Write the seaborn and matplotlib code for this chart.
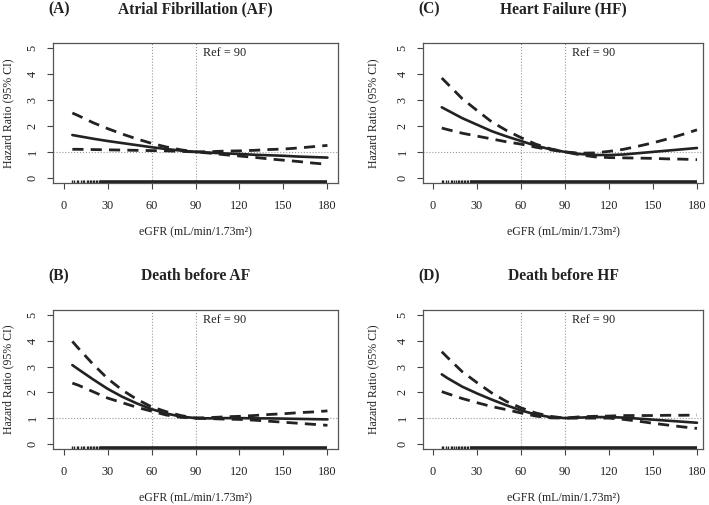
import matplotlib
matplotlib.use("Agg")
import matplotlib.pyplot as plt
import pandas as pd
import seaborn as sns

egfr = [6, 10, 20, 30, 40, 50, 60, 70, 80, 90, 100, 110, 120, 130, 140, 150, 160, 170, 180]

# (A) Atrial fibrillation
af_hr = [1.65, 1.61, 1.51, 1.42, 1.34, 1.26, 1.18, 1.11, 1.05, 1.00,
         0.97, 0.94, 0.92, 0.89, 0.87, 0.85, 0.82, 0.80, 0.78]
af_hi = [2.50, 2.40, 2.13, 1.90, 1.69, 1.50, 1.33, 1.19, 1.08, 1.00,
         1.01, 1.03, 1.04, 1.06, 1.09, 1.11, 1.15, 1.20, 1.25]
af_lo = [1.10, 1.10, 1.09, 1.08, 1.07, 1.06, 1.05, 1.04, 1.02, 1.00,
         0.95, 0.89, 0.84, 0.79, 0.73, 0.68, 0.63, 0.57, 0.52]

# (B) Death before AF
dAF_hr = [3.06, 2.90, 2.51, 2.14, 1.83, 1.57, 1.35, 1.18, 1.06, 1.00,
          0.99, 1.00, 1.00, 0.99, 0.99, 0.98, 0.97, 0.96, 0.95]
dAF_hi = [3.98, 3.72, 3.10, 2.54, 2.09, 1.73, 1.44, 1.25, 1.10, 1.00,
          1.02, 1.05, 1.07, 1.10, 1.14, 1.17, 1.21, 1.24, 1.28]
dAF_lo = [2.36, 2.28, 2.03, 1.78, 1.60, 1.42, 1.27, 1.12, 1.03, 1.00,
          0.98, 0.96, 0.95, 0.92, 0.88, 0.84, 0.80, 0.76, 0.72]

# (C) Heart failure
hf_hr = [2.72, 2.60, 2.30, 2.05, 1.80, 1.60, 1.42, 1.24, 1.10, 1.00,
         0.92, 0.88, 0.88, 0.90, 0.95, 1.00, 1.05, 1.10, 1.15]
hf_hi = [3.85, 3.62, 3.05, 2.60, 2.16, 1.83, 1.55, 1.30, 1.12, 1.00,
         0.95, 0.96, 1.02, 1.10, 1.22, 1.35, 1.50, 1.67, 1.85]
hf_lo = [1.92, 1.86, 1.72, 1.61, 1.50, 1.39, 1.30, 1.18, 1.08, 1.00,
         0.89, 0.81, 0.78, 0.77, 0.76, 0.75, 0.73, 0.72, 0.70]

# (D) Death before HF
dHF_hr = [2.70, 2.55, 2.22, 1.96, 1.72, 1.50, 1.30, 1.14, 1.04, 1.00,
          1.02, 1.04, 1.04, 1.02, 0.98, 0.94, 0.90, 0.86, 0.82]
dHF_hi = [3.58, 3.35, 2.80, 2.38, 1.98, 1.65, 1.40, 1.20, 1.07, 1.00,
          1.05, 1.07, 1.08, 1.10, 1.10, 1.10, 1.11, 1.11, 1.12]
dHF_lo = [2.03, 1.95, 1.76, 1.60, 1.45, 1.33, 1.20, 1.08, 1.01, 1.00,
          1.00, 1.00, 1.00, 0.95, 0.88, 0.80, 0.73, 0.66, 0.60]

# observed eGFR values (rug): sparse at low eGFR, dense above ~25
rug_sparse = [6, 7, 9, 10, 12, 13, 14, 16, 17, 18, 19, 20, 21, 22, 23, 24]
rug_dense = (25, 180)

ref = 90
cutoff = 60

panels = [
    ("(A)", "Atrial Fibrillation (AF)", af_hr, af_lo, af_hi),
    ("(B)", "Death before AF", dAF_hr, dAF_lo, dAF_hi),
    ("(C)", "Heart Failure (HF)", hf_hr, hf_lo, hf_hi),
    ("(D)", "Death before HF", dHF_hr, dHF_lo, dHF_hi),
]

sns.set_theme(style="white")
plt.rcParams["font.family"] = ["Liberation Serif", "DejaVu Serif"]

W, H = 709, 505
fig = plt.figure(figsize=(W / 100, H / 100), dpi=100)

# box positions in pixels: left, right, top, bottom
boxes = {
    "(A)": (53, 338, 43, 183),
    "(C)": (423, 703, 43, 183),
    "(B)": (53, 338, 310, 449),
    "(D)": (423, 703, 310, 449),
}
xlims = {"(A)": (-7.2, 187.2), "(B)": (-7.2, 187.2), "(C)": (-6.8, 184.1), "(D)": (-6.8, 184.1)}
ylab_x = {"(A)": 8, "(B)": 8, "(C)": 373, "(D)": 373}

dash = (4, 2.6)
ink = "#222222"
fs = 8.8

for tag, title, hr, lo, hi in panels:
    l, r, t, b = boxes[tag]
    ax = fig.add_axes([l / W, (H - b) / H, (r - l) / W, (b - t) / H])
    df = pd.DataFrame({"egfr": egfr, "hr": hr, "lo": lo, "hi": hi})

    ax.axvline(cutoff, color="#999999", lw=0.8, ls=":", zorder=1)
    ax.axvline(ref, color="#999999", lw=0.8, ls=":", zorder=1)
    ax.axhline(1, color="#999999", lw=0.8, ls=":", zorder=1)

    sns.lineplot(data=df, x="egfr", y="hi", color=ink, lw=2.0, ax=ax, legend=False)
    sns.lineplot(data=df, x="egfr", y="lo", color=ink, lw=2.0, ax=ax, legend=False)
    sns.lineplot(data=df, x="egfr", y="hr", color=ink, lw=1.9, ax=ax, legend=False)
    for line in ax.lines[-3:-1]:
        line.set_dashes(dash)

    # rug of observed eGFR
    sns.rugplot(x=rug_sparse, height=0.022, color=ink, lw=0.9, ax=ax)
    ax.hlines(-0.145, rug_dense[0], rug_dense[1], color=ink, lw=2.6)

    ax.text(ref + 5, 4.82, "Ref = 90", fontsize=fs, ha="left", va="center",
            color=ink)

    ax.set_xlim(*xlims[tag])
    ax.set_ylim(-0.2, 5.2)
    ax.set_xticks([0, 30, 60, 90, 120, 150, 180])
    ax.set_yticks([0, 1, 2, 3, 4, 5])
    ax.set_xlabel("")
    ax.set_ylabel("")
    for lab in ax.get_yticklabels():
        lab.set_rotation(90)
        lab.set_va("center")
    ax.tick_params(axis="both", direction="out", length=4.5, width=0.8,
                   color="#444444", labelsize=fs, labelcolor=ink, pad=6,
                   bottom=True, left=True)
    ax.tick_params(axis="x", pad=8)
    for sp in ax.spines.values():
        sp.set_color("#555555")
        sp.set_linewidth(0.9)

    cx = (l + r) / 2
    fig.text(cx / W, 1 - (t - 34) / H, title, fontsize=11.2, fontweight="bold",
             ha="center", va="center", color=ink)
    fig.text((l - 5) / W, 1 - (t - 34) / H, tag, fontsize=11.2, fontweight="bold",
             ha="left", va="center", color=ink)
    fig.text(cx / W, 1 - (b + 49) / H, "eGFR (mL/min/1.73m²)", fontsize=8.5,
             ha="center", va="center", color=ink)
    fig.text(ylab_x[tag] / W, 1 - ((t + b) / 2) / H, "Hazard Ratio (95% CI)",
             fontsize=8.5, rotation=90, ha="center", va="center", color=ink)

fig.savefig("out.png", dpi=100)
